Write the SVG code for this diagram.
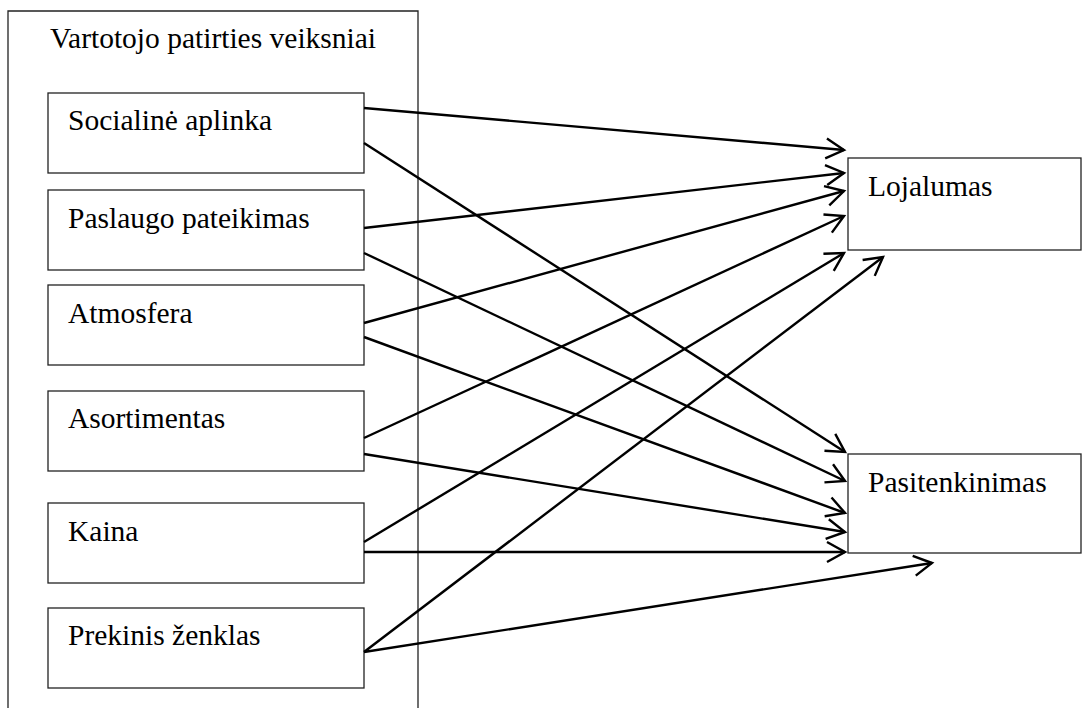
<svg xmlns="http://www.w3.org/2000/svg" width="1083" height="708" viewBox="0 0 1083 708">
<style>
.box{fill:#fff;stroke:#222;stroke-width:1.3}
.t{font-family:"Liberation Serif","Times New Roman",serif;font-size:29.5px;fill:#000}
.c{fill:none;stroke:#000;stroke-width:2.4;marker-end:url(#ah)}
</style>
<defs>
<marker id="ah" markerUnits="userSpaceOnUse" markerWidth="24" markerHeight="24" refX="19" refY="11" orient="auto" overflow="visible">
<path d="M1,1 L19,11 L1,21" fill="none" stroke="#000" stroke-width="2.4"/>
</marker>
</defs>
<rect width="1083" height="708" fill="#fff"/>
<g id="group-factors">
<path d="M8,708 V11 H418 V708" fill="none" stroke="#222" stroke-width="1.3"/>
<text class="t" x="50" y="48">Vartotojo patirties veiksniai</text>
</g>
<g id="n-social"><rect class="box" x="48" y="93" width="316" height="80"/><text class="t" x="68" y="130">Socialinė aplinka</text></g>
<g id="n-paslaugo"><rect class="box" x="48" y="190" width="316" height="80"/><text class="t" x="68" y="228">Paslaugo pateikimas</text></g>
<g id="n-atmosfera"><rect class="box" x="48" y="285" width="316" height="80"/><text class="t" x="68" y="323">Atmosfera</text></g>
<g id="n-asortimentas"><rect class="box" x="48" y="391" width="316" height="80"/><text class="t" x="68" y="428">Asortimentas</text></g>
<g id="n-kaina"><rect class="box" x="48" y="503" width="316" height="80"/><text class="t" x="68" y="541">Kaina</text></g>
<g id="n-prekinis"><rect class="box" x="48" y="608" width="316" height="80"/><text class="t" x="68" y="645">Prekinis ženklas</text></g>
<g id="n-lojalumas"><rect class="box" x="848" y="158" width="233" height="92"/><text class="t" x="868" y="196">Lojalumas</text></g>
<g id="n-pasitenkinimas"><rect class="box" x="848" y="454" width="233" height="99"/><text class="t" x="868" y="492">Pasitenkinimas</text></g>
<g id="connectors">
<line class="c" x1="364" y1="108" x2="844" y2="150"/>
<line class="c" x1="364" y1="143" x2="845" y2="452"/>
<line class="c" x1="364" y1="228" x2="844" y2="173"/>
<line class="c" x1="364" y1="253" x2="845" y2="481"/>
<line class="c" x1="364" y1="323" x2="844" y2="191"/>
<line class="c" x1="364" y1="337" x2="845" y2="513"/>
<line class="c" x1="364" y1="438" x2="844" y2="216"/>
<line class="c" x1="364" y1="454" x2="845" y2="532"/>
<line class="c" x1="364" y1="542" x2="844" y2="253"/>
<line class="c" x1="364" y1="552" x2="845" y2="552"/>
<line class="c" x1="364" y1="652" x2="883" y2="257"/>
<line class="c" x1="364" y1="652" x2="932" y2="563"/>
</g>
</svg>
